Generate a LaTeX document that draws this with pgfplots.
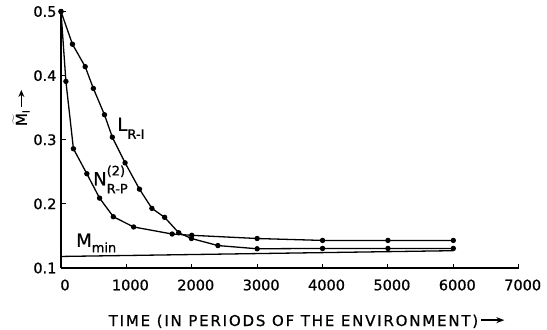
\documentclass[border=0pt]{standalone}
\usepackage{fontspec}
\setmainfont{DejaVu Sans}[FakeBold=0.8]
\usepackage{pgfplots}
\pgfplotsset{compat=1.18}
\usetikzlibrary{arrows.meta}
\begin{document}
\begin{tikzpicture}
\begin{axis}[
  scale only axis,
  width=457.7pt, height=256.5pt,
  xmin=0, xmax=7000, ymin=0.1, ymax=0.5,
  axis x line*=bottom, axis y line*=left,
  axis line style={line width=1.2pt},
  tick align=inside,
  major tick length=4.5pt,
  tick style={line width=1pt, black},
  xtick={0,1000,...,7000},
  ytick={0.1,0.2,0.3,0.4,0.5},
  /pgf/number format/assume math mode=true,
  /pgf/number format/1000 sep={},
  yticklabel style={/pgf/number format/fixed,/pgf/number format/fixed zerofill,/pgf/number format/precision=1, xshift=-1pt},
  ticklabel style={font=\fontsize{14.5}{16}\selectfont},
  xticklabel style={yshift=-8pt, xshift=4pt},
  xlabel={\addfontfeatures{LetterSpace=12}TIME (IN PERIODS OF THE ENVIRONMENT)\,\raisebox{0.35ex}{\tikz\draw[line width=1.3pt,-{Stealth[length=8pt,width=6pt]}](0,0)--(23pt,0);}},
  xlabel style={font=\fontsize{15}{16}\selectfont, at={(axis description cs:0.5,0)}, anchor=base, yshift=-58pt, xshift=17pt},
  ylabel={$\widetilde{\mbox{M}}$\raisebox{-0.35ex}{\fontsize{10}{11}\selectfont I}\,\raisebox{0.3ex}{\tikz\draw[line width=1.2pt,-{Stealth[length=7pt,width=6pt]}](0,0)--(17pt,0);}},
  ylabel style={font=\fontsize{15}{16}\selectfont, at={(axis description cs:-0.087,0.625)}, anchor=center},
  clip=false,
]
\coordinate (SW) at (rel axis cs:0,0);
\coordinate (NE) at (rel axis cs:1,1);
\addplot[black, line width=1.3pt, mark=*, mark size=2pt] coordinates {
 (0,0.5) (175,0.449) (370,0.414) (495,0.380) (665,0.339) (785,0.304) (980,0.264)
 (1200,0.223) (1390,0.193) (1585,0.179) (1800,0.155) (1995,0.146) (2400,0.135)
 (3000,0.130) (4000,0.1305) (5000,0.1305) (6000,0.1305)};
\addplot[black, line width=1.3pt, mark=*, mark size=2pt] coordinates {
 (0,0.5) (75,0.391) (190,0.286) (395,0.247) (590,0.209) (800,0.180) (1110,0.164)
 (1700,0.153) (2000,0.151) (3000,0.146) (4000,0.143) (5000,0.143) (6000,0.143)};
\addplot[black, line width=1.3pt, no marks] coordinates {(0,0.118) (6000,0.127)};
\node[anchor=base west, inner sep=0pt, font=\fontsize{18}{20}\selectfont] at (axis cs:860,0.314) {L\raisebox{-0.45em}{\fontsize{13}{14}\selectfont R-I}};
\node[anchor=base west, inner sep=0pt, font=\fontsize{18}{20}\selectfont] at (axis cs:490,0.229) {N\rlap{\raisebox{0.55em}{\fontsize{13}{14}\selectfont (2)}}\raisebox{-0.45em}{\fontsize{13}{14}\selectfont R-P}};
\node[anchor=base west, inner sep=0pt, font=\fontsize{18}{20}\selectfont] at (axis cs:230,0.133) {M\raisebox{-0.3em}{\fontsize{13}{14}\selectfont min}};
\end{axis}
\pgfresetboundingbox
\path[use as bounding box] ([shift={(-61pt,-61pt)}]SW) rectangle ([shift={(28.3pt,11.5pt)}]NE);
\end{tikzpicture}
\end{document}
